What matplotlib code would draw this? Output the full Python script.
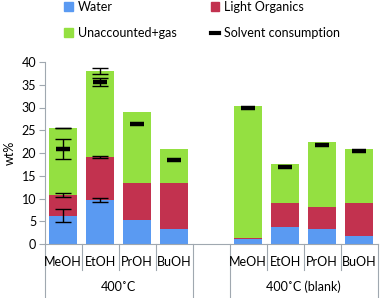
import numpy as np
import matplotlib
matplotlib.use("Agg")
import matplotlib.pyplot as plt
from matplotlib.patches import Patch
from matplotlib.lines import Line2D
from matplotlib.transforms import blended_transform_factory

plt.rcParams['font.family'] = ['Lato', 'DejaVu Sans']

solvents = ["MeOH", "EtOH", "PrOH", "BuOH"]
groups = ["400˚C", "400˚C (blank)"]

# 400C then blank
water = [6.2, 9.7, 5.3, 3.4, 1.1, 3.8, 3.3, 1.7]
light_org_top = [10.8, 19.1, 13.5, 13.4, 1.4, 9.05, 8.1, 9.0]
total = [25.5, 38.0, 29.1, 20.9, 30.4, 17.5, 22.4, 20.9]
solvent_cons = [20.8, 35.6, 26.4, 18.5, 29.8, 16.9, 21.8, 20.4]

# error bars (only measured for first two solvents at 400C)
water_err = [1.4, 0.45, 0, 0, 0, 0, 0, 0]
lo_err = [0.5, 0.25, 0, 0, 0, 0, 0, 0]
total_err = [0.05, 0.65, 0, 0, 0, 0, 0, 0]
solv_err = [2.2, 0.85, 0, 0, 0, 0, 0, 0]

x = np.array([0, 1, 2, 3, 5, 6, 7, 8])
water = np.array(water)
lo = np.array(light_org_top) - water
unacc = np.array(total) - np.array(light_org_top)

c_water = "#5a9af2"
c_lo = "#c2324f"
c_gas = "#94e041"
grey = "#a0a8b0"
fs = 9

fig = plt.figure(figsize=(3.8, 2.98), dpi=100)
ax = fig.add_axes([44.7 / 380, 54 / 298, 333 / 380, 182 / 298])

w = 0.76
ax.bar(x, water, w, color=c_water)
ax.bar(x, lo, w, bottom=water, color=c_lo)
ax.bar(x, unacc, w, bottom=water + lo, color=c_gas)

ek = dict(fmt="none", ecolor="black", elinewidth=1, capsize=5.5, capthick=1)
m = np.array(water_err) > 0
ax.errorbar(x[m], water[m], yerr=np.array(water_err)[m], **ek)
m = np.array(lo_err) > 0
ax.errorbar(x[m], np.array(light_org_top)[m], yerr=np.array(lo_err)[m], **ek)
m = np.array(total_err) > 0
ax.errorbar(x[m], np.array(total)[m], yerr=np.array(total_err)[m], **ek)
m = np.array(solv_err) > 0
ax.errorbar(x[m], np.array(solvent_cons)[m], yerr=np.array(solv_err)[m], **ek)

ax.plot(x, solvent_cons, linestyle="none", marker="_", color="black",
        markersize=10, markeredgewidth=3.2)

ax.set_xlim(-0.5, 8.5)
ax.set_ylim(0, 40)
ax.set_yticks(range(0, 41, 5))
ax.tick_params(axis="y", labelsize=fs, color=grey, length=4, width=0.8, pad=2)
ax.set_xticks([])
for s in ["top", "right"]:
    ax.spines[s].set_visible(False)
ax.spines["left"].set_color(grey)
ax.spines["bottom"].set_color(grey)
ax.set_ylabel("wt%", fontsize=fs, labelpad=4)

# two-level category axis
tr = blended_transform_factory(ax.transData, ax.transAxes)
lvl1 = -26 / 182
lvl2 = -54 / 182
for b in [0.5, 1.5, 2.5, 5.5, 6.5, 7.5]:
    ax.plot([b, b], [0, lvl1], transform=tr, color=grey, lw=0.8, clip_on=False)
for b in [-0.5, 3.5, 4.5, 8.5]:
    ax.plot([b, b], [0, lvl2], transform=tr, color=grey, lw=0.8, clip_on=False)
for i, xi in enumerate(x):
    ax.text(xi, -18 / 182, solvents[i % 4], transform=tr, ha="center",
            va="center", fontsize=fs)
ax.text(1.5, -43 / 182, groups[0], transform=tr, ha="center", va="center", fontsize=fs)
ax.text(6.5, -43 / 182, groups[1], transform=tr, ha="center", va="center", fontsize=fs)

# legend filled column-wise: col 1 = Water, Unaccounted; col 2 = Light Org, Solvent
handles = [Patch(color=c_water), Patch(color=c_gas), Patch(color=c_lo),
           Line2D([], [], color="black", lw=3)]
labels = ["Water", "Unaccounted+gas", "Light Organics", "Solvent consumption"]
fig.legend(handles, labels, ncol=2, loc="upper left",
           bbox_to_anchor=(53 / 380, 1.035), frameon=False, fontsize=fs,
           handlelength=0.7, handleheight=0.7, handletextpad=0.4,
           columnspacing=2.7, labelspacing=1.15)

fig.savefig("out.png", dpi=100)
